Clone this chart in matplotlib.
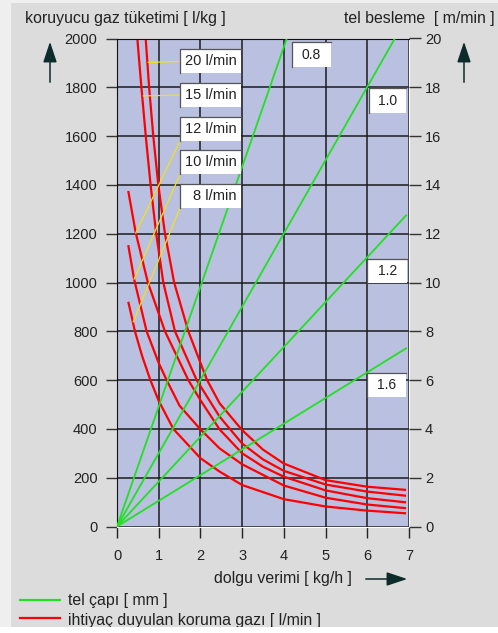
import matplotlib
matplotlib.use('Agg')
import matplotlib.pyplot as plt
from matplotlib.patches import Rectangle, FancyArrowPatch
from matplotlib.lines import Line2D

plt.rcParams['font.family'] = ['Liberation Sans', 'DejaVu Sans']
plt.rcParams['font.size'] = 10

# shielding gas consumption [l/kg] over deposition rate [kg/h], one curve per gas flow
gas_20_x = [0.69, 0.77, 0.87, 0.99, 1.15, 1.37, 1.71, 2.16, 2.46, 3.0, 3.5, 4.0, 5.0, 6.0, 6.93]
gas_20_y = [1994, 1800, 1600, 1400, 1200, 1000, 800, 600, 505, 395, 315, 258, 190, 163, 150]
gas_15_x = [0.49, 0.585, 0.69, 0.805, 0.94, 1.11, 1.39, 1.91, 2.46, 3.0, 3.5, 4.0, 5.0, 6.0, 6.93]
gas_15_y = [1994, 1800, 1600, 1400, 1200, 1000, 800, 600, 450, 340, 275, 228, 172, 143, 126]
gas_12_x = [0.27, 0.45, 0.74, 1.15, 1.71, 2.0, 2.46, 3.0, 3.5, 4.0, 5.0, 6.0, 6.93]
gas_12_y = [1375, 1203, 1000, 800, 600, 518, 398, 300, 245, 204, 148, 116, 99]
gas_10_x = [0.27, 0.41, 0.71, 1.0, 1.19, 1.5, 1.99, 2.46, 3.0, 4.0, 5.0, 6.0, 6.93]
gas_10_y = [1153, 1014, 800, 670, 600, 495, 400, 320, 255, 168, 118, 90, 75]
gas_8_x = [0.27, 0.35, 0.43, 0.6, 0.8, 1.0, 1.35, 2.0, 2.46, 3.0, 4.0, 5.0, 6.0, 6.93]
gas_8_y = [921, 862, 800, 700, 600, 515, 400, 280, 225, 170, 112, 82, 65, 54]

gas_x = [gas_20_x, gas_15_x, gas_12_x, gas_10_x, gas_8_x]
gas_y = [gas_20_y, gas_15_y, gas_12_y, gas_10_y, gas_8_y]
gas_labels = ['20 l/min', '15 l/min', '12 l/min', '10 l/min', '8 l/min']
# point on each curve where the yellow leader touches
leader_x = [0.75, 0.63, 0.45, 0.41, 0.39]
leader_y = [1902, 1765, 1203, 1014, 839]

# wire feed [m/min] lines from origin, per wire diameter
wire_labels = ['0.8', '1.0', '1.2', '1.6']
wire_end_x = [4.07, 6.66, 6.93, 6.93]
wire_end_y = [20, 20, 12.75, 7.3]

x_ticks = [0, 1, 2, 3, 4, 5, 6, 7]
left_ticks = [0, 200, 400, 600, 800, 1000, 1200, 1400, 1600, 1800, 2000]
right_ticks = [0, 2, 4, 6, 8, 10, 12, 14, 16, 18, 20]

W, H = 498, 633
TXT = '#222222'


def fpx(x, y):
    # figure pixel (from top-left) -> figure fraction
    return x / W, 1 - y / H


fig = plt.figure(figsize=(W / 100, H / 100), dpi=100, facecolor='#dcdcdc')
ax = fig.add_axes([117 / W, 1 - 526.5 / H, 292 / W, 488 / H])
ax.set_facecolor('#b9c0e0')
ax.set_xlim(0, 7)
ax.set_ylim(0, 2000)
ax.set_xticks(x_ticks)
ax.set_yticks(left_ticks)
ax.grid(True, color='#1c1c1c', lw=1.1)
ax.set_axisbelow(True)
ax.spines['left'].set_color('#111111')
ax.spines['top'].set_color('#111111')
ax.spines['bottom'].set_color('white')
ax.spines['right'].set_color('white')
ax.tick_params(axis='y', length=8, width=1, color='#333333', pad=6,
               labelsize=10.5, labelcolor=TXT)
ax.tick_params(axis='x', length=8, width=1, color=TXT, pad=8,
               labelsize=10.5, labelcolor=TXT)

ax2 = ax.twinx()
ax2.set_ylim(0, 20)
ax2.set_yticks(right_ticks)
for s in ax2.spines.values():
    s.set_visible(False)
ax2.tick_params(axis='y', length=8.5, width=1, color='#333333', pad=3,
                labelsize=10.5, labelcolor=TXT)

for xs, ys in zip(gas_x, gas_y):
    ax.plot(xs, ys, color='#ff0000', lw=1.6, solid_capstyle='butt',
            solid_joinstyle='round', clip_on=False)

for ex, ey in zip(wire_end_x, wire_end_y):
    ax2.plot([0, ex], [0, ey], color='#22e022', lw=1.3, zorder=3)


def sunken_box(x0, y0, x1, y1):
    r = Rectangle((x0, y0), x1 - x0, y1 - y0, transform=ax.transData,
                  facecolor='white', edgecolor='none', zorder=5)
    ax2.add_patch(r)
    edge = Line2D([x0, x0, x1], [y0, y1, y1], transform=ax.transData,
                  color='#555555', lw=0.9, zorder=6)
    ax2.add_line(edge)


# gas flow labels with leaders
box_x0, box_x1 = 1.51, 2.97
box_mid = [1906, 1768, 1629, 1492, 1354]
box_h = 98
for lab, mid, lx, ly in zip(gas_labels, box_mid, leader_x, leader_y):
    sunken_box(box_x0, mid - box_h / 2, box_x1, mid + box_h / 2)
    ax2.text(2.87, mid, lab, transform=ax.transData, ha='right', va='center',
             fontsize=10.5, color=TXT, zorder=7)
    ly0 = mid if lx > 0.6 else mid - box_h / 2
    ax2.add_line(Line2D([box_x0, lx], [ly0, ly], transform=ax.transData,
                        color='#f2e21a', lw=0.9, zorder=4))

# wire diameter labels
wire_boxes = [(4.19, 1883, 5.12, 1985), (6.03, 1694, 6.94, 1797),
              (6.0, 998, 6.96, 1096), (6.0, 531, 6.94, 629)]
for lab, (x0, y0, x1, y1) in zip(wire_labels, wire_boxes):
    sunken_box(x0, y0, x1, y1)
    ax2.text((x0 + x1) / 2, (y0 + y1) / 2, lab, transform=ax.transData,
             ha='center', va='center', fontsize=10, color=TXT, zorder=7)

# axis titles and arrows
fig.text(*fpx(25, 18), 'koruyucu gaz tüketimi [ l/kg ]', ha='left', va='center',
         fontsize=11.4, color=TXT)
fig.text(*fpx(495, 18), 'tel besleme  [ m/min ]', ha='right', va='center',
         fontsize=11.4, color=TXT)
fig.text(*fpx(352, 579), 'dolgu verimi [ kg/h ]', ha='right', va='center',
         fontsize=11.4, color=TXT)

arrow_kw = dict(arrowstyle='-|>,head_length=0.9,head_width=0.3', color='#0d2b2b', lw=1.1)
for (x0, y0), (x1, y1) in [((50, 85), (50, 39)), ((464, 85), (464, 39)),
                           ((363, 579), (410, 579))]:
    fig.add_artist(FancyArrowPatch(fpx(x0, y0), fpx(x1, y1), transform=fig.transFigure,
                                   mutation_scale=14, **arrow_kw))

# legend
fig.add_artist(Line2D([20 / W, 60 / W], [1 - 600 / H, 1 - 600 / H], color='#22e022', lw=1.6))
fig.add_artist(Line2D([20 / W, 60 / W], [1 - 618 / H, 1 - 618 / H], color='#ff0000', lw=1.6))
fig.text(*fpx(68, 601), 'tel çapı [ mm ]', ha='left', va='center', fontsize=11.4, color=TXT)
fig.text(*fpx(68, 621), 'ihtiyaç duyulan koruma gazı [ l/min ]', ha='left', va='center',
         fontsize=11.4, color=TXT)

# window frame strips
fig.add_artist(Rectangle((0, 0), 1, 6 / H, transform=fig.transFigure,
                         facecolor='white', edgecolor='none', zorder=20))
fig.add_artist(Rectangle((0, 0), 11 / W, 1, transform=fig.transFigure,
                         facecolor='#efefef', edgecolor='none', zorder=19))
fig.add_artist(Rectangle((0, 1 - 3 / H), 1, 3 / H, transform=fig.transFigure,
                         facecolor='#efefef', edgecolor='none', zorder=19))

fig.savefig('out.png', dpi=100, facecolor=fig.get_facecolor())
